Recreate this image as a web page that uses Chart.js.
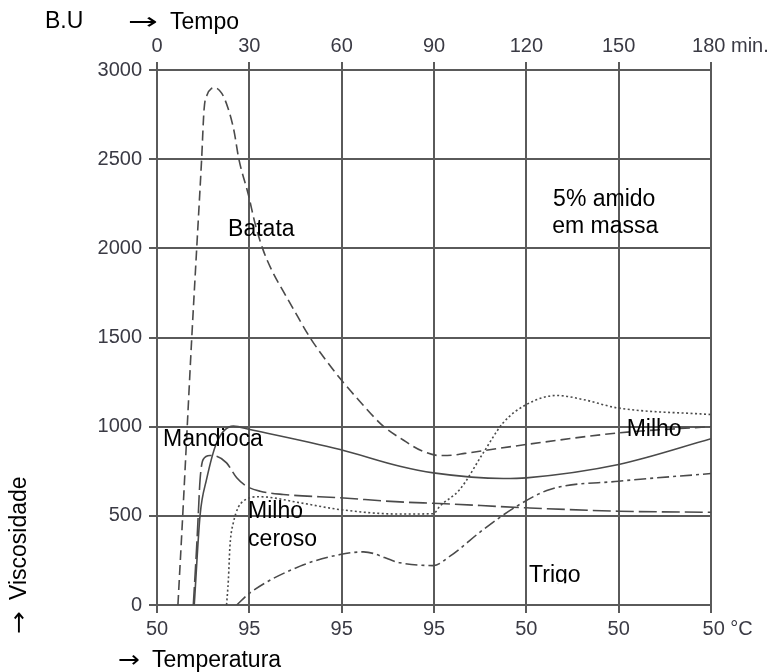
<!DOCTYPE html>
<html><head><meta charset="utf-8">
<script src="https://cdn.jsdelivr.net/npm/chart.js@4.4.1/dist/chart.umd.min.js"></script>
<style>html,body{margin:0;padding:0;background:#fff;}canvas{display:block;}</style>
</head><body>
<canvas id="c" width="776" height="672"></canvas>
<script>
// ---- data (time in min, viscosity in B.U.) ----
const batataT = [6.8, 8.35, 11.3, 12.9, 14.5, 15.3, 16.4, 17.6, 18.8, 21.0, 23.0, 25.0, 26.6, 29.7, 32.0, 34.5, 37.5, 41.0, 44.3, 49.7, 55.0, 59.5, 66.0, 73.5, 80.0, 86.0, 91.9, 96.0, 100, 120, 150, 180];
const batataV = [0, 500, 1500, 2000, 2500, 2780, 2865, 2895, 2900, 2870, 2790, 2660, 2500, 2300, 2130, 1990, 1870, 1760, 1660, 1500, 1370, 1270, 1140, 1003, 925, 865, 838, 840, 850, 900, 965, 1000];

const mandiocaT = [11.8, 12.9, 13.4, 14.0, 15.0, 17.2, 19.4, 22.6, 25.9, 29.1, 33.5, 41.0, 59.5, 78.9, 91.9, 120, 150, 180];
const mandiocaV = [0, 330, 504, 704, 816, 838, 834, 797, 713, 666, 638, 620, 601, 578, 569, 545, 526, 520];

const milhoT = [12.1, 14.0, 16.1, 19.4, 24.8, 30.2, 59.5, 78.9, 89.8, 112.5, 120, 150, 180];
const milhoV = [0, 504, 704, 910, 1003, 984, 872, 778, 741, 709, 713, 788, 932];

const ceroseT = [22.6, 23.2, 23.7, 24.8, 28.0, 33.5, 46.5, 59.5, 78.9, 89.8, 91.9, 98.4, 106, 112.5, 120, 129.9, 138.5, 149.4, 180];
const ceroseV = [0, 143, 330, 461, 582, 607, 573, 535, 510, 512, 554, 648, 853, 1022, 1124, 1175, 1152, 1106, 1068];

const trigoT = [25.9, 30.2, 46.5, 59.5, 67.1, 78.9, 89.8, 95.2, 106, 116.9, 127.7, 150, 180];
const trigoV = [0, 68, 218, 283, 298, 237, 221, 274, 423, 554, 648, 694, 737];

const topTickLabels = ['0', '30', '60', '90', '120', '150', '180 min.'];
const bottomTickLabels = ['50', '95', '95', '95', '50', '50', '50 °C'];

// ---- helpers ----
const pts = (t, v) => t.map((x, i) => ({x: x, y: v[i]}));
const INK = '#4a4a4a';
const GRID = '#5a5a5a';
const TICKC = '#3a3a44';
const FONT = "'Liberation Sans', Arial, sans-serif";
Chart.defaults.font.family = FONT;

function series(label, t, v, dash) {
  return {
    label: label, data: pts(t, v), borderColor: INK, borderWidth: 1.6,
    borderDash: dash, pointRadius: 0, fill: false,
    cubicInterpolationMode: 'monotone', xAxisID: 'x', yAxisID: 'y'
  };
}

function drawArrow(ctx, x, y, w) {
  ctx.save();
  ctx.font = "23px 'DejaVu Sans', sans-serif";
  const m = ctx.measureText('\u2192').width;
  ctx.translate(x, y);
  ctx.scale(w / m, 1);
  ctx.fillText('\u2192', 0, 0);
  ctx.restore();
}

const textPlugin = {
  id: 'texts',
  afterDraw(chart) {
    const ctx = chart.ctx;
    const xs = chart.scales.x, ys = chart.scales.y;
    const px = t => xs.getPixelForValue(t), py = v => ys.getPixelForValue(v);
    ctx.save();
    ctx.fillStyle = '#000';
    ctx.textBaseline = 'alphabetic';
    ctx.textAlign = 'left';
    ctx.font = "23px " + FONT;
    // in-plot labels (placed in data coordinates)
    ctx.fillText('Batata', px(23.1), py(2069));
    ctx.fillText('Mandioca', px(1.95), py(893));
    ctx.fillText('Milho', px(29.6), py(486));
    ctx.fillText('ceroso', px(29.6), py(333));
    ctx.fillText('Milho', px(152.6), py(948));
    ctx.fillText('5% amido', px(128.7), py(2237));
    ctx.fillText('em massa', px(128.4), py(2086));
    ctx.save();
    ctx.beginPath();
    ctx.rect(0, 0, chart.width, py(122));
    ctx.clip();
    ctx.fillText('Trigo', px(120.9), py(129));
    ctx.restore();
    // axis titles
    ctx.font = "23px " + FONT;
    ctx.fillText('B.U', 45, 28);
    drawArrow(ctx, 128, 29, 30);
    ctx.font = "23px " + FONT;
    ctx.fillText('Tempo', 170, 29);
    drawArrow(ctx, 118, 667, 22);
    ctx.font = "23px " + FONT;
    ctx.fillText('Temperatura', 152, 667);
    ctx.translate(26, 634);
    ctx.rotate(-Math.PI / 2);
    drawArrow(ctx, 0, 0, 23);
    ctx.font = "23px " + FONT;
    ctx.fillText('Viscosidade', 34, 0);
    ctx.restore();
  }
};

const gridOpts = {color: GRID, lineWidth: 2, tickLength: 8, tickColor: GRID, tickWidth: 2};

new Chart(document.getElementById('c'), {
  type: 'line',
  data: {
    datasets: [
      series('Batata', batataT, batataV, [10, 5]),
      series('Mandioca', mandiocaT, mandiocaV, [18, 5]),
      series('Milho', milhoT, milhoV, []),
      series('Milho ceroso', ceroseT, ceroseV, [2, 2.5]),
      series('Trigo', trigoT, trigoV, [12, 4, 3, 4])
    ]
  },
  options: {
    responsive: false,
    devicePixelRatio: 1,
    animation: false,
    events: [],
    layout: {padding: {left: 0, right: 65, top: 0, bottom: 0}},
    plugins: {legend: {display: false}, tooltip: {enabled: false}, title: {display: false}},
    scales: {
      x: {
        type: 'linear', position: 'top', min: 0, max: 180,
        grid: gridOpts,
        border: {color: GRID, width: 2},
        ticks: {
          stepSize: 30, autoSkip: false, maxRotation: 0, padding: 4,
          color: TICKC, font: {size: 20},
          callback: (v, i) => (i === topTickLabels.length - 1 ? '       ' : '') + topTickLabels[i]
        },
        afterFit: s => { s.height = 70; }
      },
      x2: {
        type: 'linear', position: 'bottom', min: 0, max: 180,
        grid: Object.assign({}, gridOpts, {drawOnChartArea: false}),
        border: {color: GRID, width: 2},
        ticks: {
          stepSize: 30, autoSkip: false, maxRotation: 0, padding: 4,
          color: TICKC, font: {size: 20},
          callback: (v, i) => (i === bottomTickLabels.length - 1 ? '      ' : '') + bottomTickLabels[i]
        },
        afterFit: s => { s.height = 67; }
      },
      y: {
        type: 'linear', position: 'left', min: 0, max: 3000,
        grid: gridOpts,
        border: {color: GRID, width: 2},
        ticks: {stepSize: 500, padding: 7, color: TICKC, font: {size: 20}, callback: v => String(v)},
        afterFit: s => { s.width = 157; }
      }
    }
  },
  plugins: [textPlugin]
});
</script>
</body></html>
